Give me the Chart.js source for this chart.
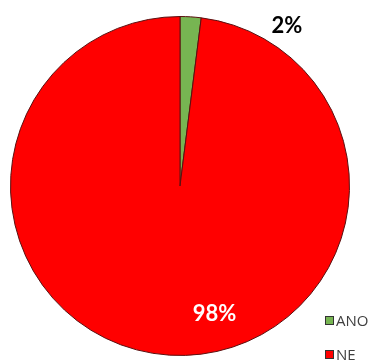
<!DOCTYPE html>
<html>
<head>
<meta charset="utf-8">
<script src="https://cdn.jsdelivr.net/npm/chart.js@4/dist/chart.umd.min.js"></script>
<style>
  html, body { margin: 0; padding: 0; background: #fff; }
  #wrap { position: relative; width: 374px; height: 360px; overflow: hidden; }
  #legend { position: absolute; left: 325px; top: 312px; font-family: "Open Sans", sans-serif; font-size: 15px; color: #404040; }
  .item { display: flex; align-items: center; height: 16px; margin-bottom: 18px; }
  .box { width: 7px; height: 7px; border: 1px solid #333; margin-right: 2px; }
</style>
</head>
<body>
<div id="wrap">
  <canvas id="pieChart" width="374" height="360"></canvas>
  <div id="legend"></div>
</div>
<script>
const labels = ["ANO", "NE"];
const values = [2, 98];
const colors = ["#77b552", "#ff0000"];
const labelColors = ["#000000", "#ffffff"];

// Label placement relative to pie centre, in units of radius
const labelOffsets = [[0.63, -0.947], [0.203, 0.756]];

const pctLabels = {
  id: "pctLabels",
  afterDatasetsDraw(chart) {
    const ctx = chart.ctx;
    const total = values.reduce((a, b) => a + b, 0);
    chart.getDatasetMeta(0).data.forEach((arc, i) => {
      const r = arc.outerRadius;
      const x = arc.x + labelOffsets[i][0] * r;
      const y = arc.y + labelOffsets[i][1] * r;
      ctx.save();
      ctx.font = "bold 22px Lato, 'Liberation Sans', sans-serif";
      ctx.fillStyle = labelColors[i];
      ctx.textAlign = "center";
      ctx.textBaseline = "middle";
      ctx.fillText(Math.round(values[i] / total * 100) + "%", x, y);
      ctx.restore();
    });
  }
};

const ctx = document.getElementById("pieChart").getContext("2d");
const pieChart = new Chart(ctx, {
  type: "pie",
  data: {
    labels: labels,
    datasets: [{
      data: values,
      backgroundColor: colors,
      borderColor: "#5a1010",
      borderWidth: 1
    }]
  },
  options: {
    responsive: false,
    animation: false,
    layout: { padding: { left: 10, right: 24, top: 16, bottom: 4 } },
    plugins: {
      legend: { display: false },
      tooltip: { enabled: false }
    }
  },
  plugins: [pctLabels]
});

// Legend
const legendEl = document.getElementById("legend");
labels.forEach((name, i) => {
  const item = document.createElement("div");
  item.className = "item";
  item.innerHTML = '<span class="box" style="background:' + colors[i] + '"></span>' + name;
  legendEl.appendChild(item);
});
</script>
</body>
</html>
